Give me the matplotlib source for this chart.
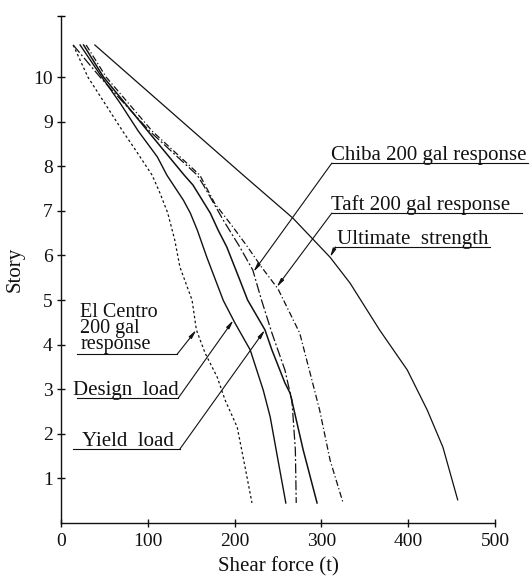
import numpy as np
import matplotlib

matplotlib.use("Agg")
import matplotlib.pyplot as plt

plt.rcParams["font.family"] = ["Liberation Serif", "DejaVu Serif"]

# story level (top-down) and shear force (t)
ultimate_story = [10.72, 8.79, 7.8, 6.84, 5.96, 5.38, 4.33, 3.43, 2.53, 1.70, 0.52]
ultimate_shear = [39, 152, 210, 267, 310, 333, 367, 399, 422, 440, 457]

elcentro_story = [10.72, 10.0, 8.79, 8.36, 7.8, 7.4, 6.95, 6.35, 5.74, 5.0, 4.33, 3.81, 3.27, 2.76, 2.15, 1.26, 0.45]
elcentro_shear = [14, 31, 71, 86, 105, 114, 123, 131, 137, 151, 156, 166, 180, 189, 203, 212, 220]

design_story = [10.72, 10.0, 9.42, 8.79, 8.21, 7.8, 7.24, 6.95, 6.57, 5.96, 4.99, 4.5, 3.88, 2.98, 2.38, 1.41, 0.45]
design_shear = [22, 47, 68, 89, 111, 122, 141, 149, 157, 168, 187, 200, 218, 233, 241, 250, 259]

yield_story = [10.72, 10.0, 8.79, 7.8, 7.58, 6.95, 6.57, 6.19, 5.45, 5.0, 4.33, 3.88, 3.14, 2.91, 1.64, 0.45]
yield_shear = [26, 49, 100, 142, 152, 172, 181, 191, 206, 215, 235, 243, 258, 264, 279, 295]

chiba_story = [10.72, 10.0, 8.79, 7.8, 7.58, 6.79, 6.19, 5.67, 5.0, 4.26, 3.43, 2.91, 2.76, 1.64, 0.45]
chiba_shear = [14, 45, 102, 157, 164, 187, 206, 221, 231, 243, 258, 264, 266, 270, 271]

taft_story = [10.72, 10.0, 8.79, 7.8, 7.17, 6.64, 6.19, 5.74, 5.25, 4.26, 3.36, 2.53, 1.41, 0.45]
taft_shear = [29, 52, 105, 160, 177, 198, 215, 231, 250, 275, 287, 298, 310, 325]

x_ticks = [0, 100, 200, 300, 400, 500]
y_ticks = [1, 2, 3, 4, 5, 6, 7, 8, 9, 10]

INK = "#111111"
FS = 15

fig = plt.figure(figsize=(5.31, 5.77), dpi=100)
ax = fig.add_axes([61 / 531, 54 / 577, 434 / 531, 507 / 577])
ax.set_xlim(0, 500)
ax.set_ylim(0, 11.37)

ax.plot(ultimate_shear, ultimate_story, color=INK, lw=0.9)
ax.plot(elcentro_shear, elcentro_story, color=INK, lw=0.9, ls=(0, (2, 2)))
ax.plot(design_shear, design_story, color=INK, lw=1.0)
ax.plot(yield_shear, yield_story, color=INK, lw=1.1)
ax.plot(chiba_shear, chiba_story, color=INK, lw=0.9, ls=(0, (8, 2, 1.5, 2)))
ax.plot(taft_shear, taft_story, color=INK, lw=0.9, ls=(0, (5, 2, 1, 2)))


def callout(text, text_x, text_y, x0, x1, y, anchor_x, shear, story, tip_story, size=FS, **kw):
    ax.text(text_x, text_y, text, fontsize=size, ha="left", color=INK, clip_on=False, **kw)
    ax.plot([x0, x1], [y, y], color=INK, lw=0.8, clip_on=False)
    tip_x = np.interp(tip_story, story[::-1], shear[::-1])
    ax.annotate("", xy=(tip_x, tip_story), xytext=(anchor_x, y), annotation_clip=False,
                arrowprops=dict(arrowstyle="-|>,head_length=0.5,head_width=0.1", color=INK,
                                lw=0.8, shrinkA=0, shrinkB=0))


# right-hand labels
callout("Chiba 200 gal response", 311, 8.13, 312, 538, 8.07, 312,
        chiba_shear, chiba_story, 5.63, va="baseline")
callout("Taft 200 gal response", 311, 7.01, 312, 531, 6.95, 312,
        taft_shear, taft_story, 5.29, va="baseline")
callout("Ultimate  strength", 318, 6.25, 316, 494, 6.19, 316,
        ultimate_shear, ultimate_story, 5.96, va="baseline")

# left-hand labels
callout("El Centro\n200 gal\nresponse", 22, 3.79, 18, 134, 3.79, 134,
        elcentro_shear, elcentro_story, 4.33, size=14.5, va="bottom", linespacing=0.78)
callout("Design  load", 14, 2.88, 18, 135, 2.80, 135,
        design_shear, design_story, 4.55, va="baseline")
callout("Yield  load", 24, 1.73, 14, 137, 1.66, 137,
        yield_shear, yield_story, 4.33, va="baseline")

for side in ["top", "right"]:
    ax.spines[side].set_visible(False)
for side in ["left", "bottom"]:
    ax.spines[side].set_color(INK)
    ax.spines[side].set_linewidth(1.0)

ax.set_xticks(x_ticks)
ax.set_yticks(y_ticks)
ax.set_yticks([11.37], minor=True)
ax.tick_params(axis="both", which="major", direction="inout", length=6, width=1.0,
               labelsize=14, colors=INK)
ax.tick_params(axis="y", which="minor", direction="inout", length=6, width=1.0)
ax.tick_params(axis="x", pad=4)
ax.tick_params(axis="y", pad=3)

ax.set_xlabel("Shear force (t)", fontsize=FS, color=INK, labelpad=5)
ax.set_ylabel("Story", fontsize=FS, color=INK, labelpad=6)

fig.patch.set_facecolor("white")
ax.set_facecolor("white")
fig.savefig("out.png", dpi=100, facecolor="white")
plt.close(fig)
